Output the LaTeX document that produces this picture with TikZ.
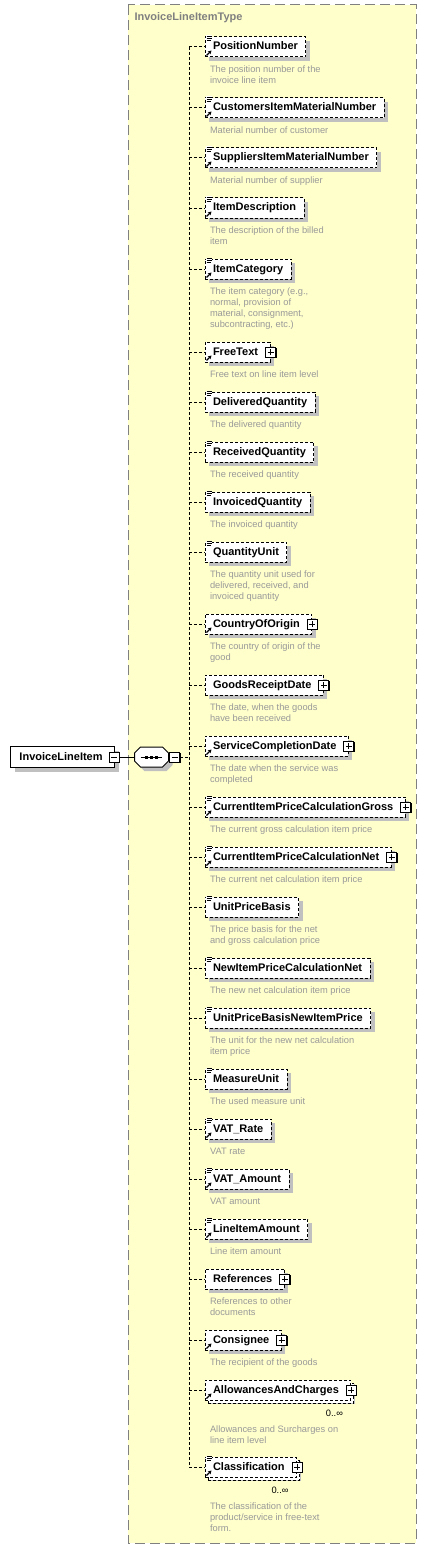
\documentclass[tikz,border=0pt]{standalone}
\usepackage{fontspec}
\setmainfont{Liberation Sans}
\definecolor{typeyellow}{HTML}{FFFFCC}
\definecolor{framegray}{HTML}{808080}
\definecolor{notegray}{HTML}{999999}
\definecolor{shadowgray}{HTML}{C0C0C0}
\usepackage{tikz}
\usetikzlibrary{positioning, shadows, arrows.meta}

\tikzset{
  elembox/.style={draw, dash pattern=on 3pt off 2pt, fill=white, anchor=west,
    inner xsep=8pt, inner ysep=0pt, minimum height=20pt, text height=8pt, text depth=2pt,
    font=\fontsize{11}{13}\selectfont\bfseries,
    drop shadow={shadow xshift=4pt, shadow yshift=-4pt, opacity=1, fill=shadowgray}},
  elemplus/.style={elembox, execute at end node={\hspace{4pt}}},
  multibox/.style={elemplus, copy shadow={shadow xshift=3pt, shadow yshift=-3pt}},
  rootbox/.style={draw, fill=white, anchor=west, inner xsep=9pt, inner ysep=0pt,
    minimum height=21pt, text height=8pt, text depth=2pt,
    font=\fontsize{11}{13}\selectfont\bfseries, execute at end node={\hspace{3pt}},
    drop shadow={shadow xshift=4pt, shadow yshift=-4pt, opacity=1, fill=shadowgray}},
  seqbox/.style={minimum width=33pt, minimum height=19pt, inner sep=0pt},
  seqline/.style={draw, fill=white,
    drop shadow={shadow xshift=4pt, shadow yshift=-4pt, opacity=1, fill=shadowgray}},
  plusbox/.style={draw, fill=white, minimum size=10pt, inner sep=0pt,
    drop shadow={shadow xshift=1pt, shadow yshift=-1pt, opacity=1, fill=black},
    path picture={\draw ([xshift=-3pt]path picture bounding box.center) -- ([xshift=3pt]path picture bounding box.center)
      ([yshift=-3pt]path picture bounding box.center) -- ([yshift=3pt]path picture bounding box.center);}},
  minusbox/.style={draw, fill=white, minimum size=10pt, inner sep=0pt,
    drop shadow={shadow xshift=1pt, shadow yshift=-1pt, opacity=1, fill=black},
    path picture={\draw ([xshift=-3pt]path picture bounding box.center) -- ([xshift=3pt]path picture bounding box.center);}},
  descr/.style={text=notegray, align=left, inner sep=0pt, font=\fontsize{9.3}{11}\selectfont},
  mult/.style={inner sep=0pt, font=\fontsize{9.3}{11}\selectfont},
  link/.style={dash pattern=on 3pt off 2pt},
  typeframe/.style={draw=framegray, fill=typeyellow, dash pattern=on 10pt off 5pt}
}

% small icons on the element boxes
\newcommand{\annmark}[1]{%
  \fill[white] ([xshift=1.5pt,yshift=1pt]#1.north west) rectangle ++(6pt,-6.5pt);
  \draw[line width=0.8pt] ([xshift=2pt,yshift=0.5pt]#1.north west) -- ++(5pt,0pt)
    ([xshift=2pt,yshift=-1.8pt]#1.north west) -- ++(5pt,0pt)
    ([xshift=2pt,yshift=-4.1pt]#1.north west) -- ++(4pt,0pt);}
\newcommand{\linkmark}[1]{%
  \draw[line width=1.2pt, -{Stealth[length=3.5pt,width=4pt]}] ([xshift=2pt,yshift=2pt]#1.south west) -- ++(5pt,5pt);}

\begin{document}
\begin{tikzpicture}[x=1pt, y=-1pt, line width=1pt]
  \useasboundingbox (0,0) rectangle (427,1549);

  \draw[typeframe] (128,5) rectangle (416,1543);
  \node[anchor=west, inner sep=0pt, text=framegray, font=\fontsize{11}{13}\selectfont\bfseries] (typetitle) at (134,18) {InvoiceLineItemType};

  % root element and sequence
  \node[rootbox] (root) at (10,757) {InvoiceLineItem};
  \node[minusbox] (rootminus) at ([xshift=-1pt]root.east) {};
  \node[seqbox] (seq) at (151.5,757) {};
  \draw[seqline] ([xshift=6pt]seq.north west) -- ([xshift=-6pt]seq.north east) -- ([yshift=-6pt]seq.north east)
    -- ([yshift=6pt]seq.south east) -- ([xshift=-6pt]seq.south east) -- ([xshift=6pt]seq.south west)
    -- ([yshift=6pt]seq.south west) -- ([yshift=-6pt]seq.north west) -- cycle;
  \node[minusbox] (seqminus) at ([xshift=6pt]seq.east) {};
  \draw ([xshift=-11pt]seq.center) -- ([xshift=10pt]seq.center);
  \fill ([xshift=-5pt]seq.center) ++(-1.5,-1.5) rectangle ++(3,3);
  \fill (seq.center) ++(-1.5,-1.5) rectangle ++(3,3);
  \fill ([xshift=5pt]seq.center) ++(-1.5,-1.5) rectangle ++(3,3);
  \draw (rootminus.east) -- (seq.west);
  \coordinate (spine) at (189,757);
  \draw[link] (seqminus.east) -- (spine);

  % children
  \node[elembox] (posnum) at (204.5,47) {PositionNumber};
  \node[descr, below right=8pt and 5pt of posnum.south west] (posnumnote) {The position number of the\\invoice line item};
  \annmark{posnum} \linkmark{posnum}

  \node[elembox] (custmat) at (204.5,108) {CustomersItemMaterialNumber};
  \node[descr, below right=8pt and 5pt of custmat.south west] (custmatnote) {Material number of customer};
  \annmark{custmat} \linkmark{custmat}

  \node[elembox] (suppmat) at (204.5,158) {SuppliersItemMaterialNumber};
  \node[descr, below right=8pt and 5pt of suppmat.south west] (suppmatnote) {Material number of supplier};
  \annmark{suppmat} \linkmark{suppmat}

  \node[elembox] (itemdesc) at (204.5,208) {ItemDescription};
  \node[descr, below right=8pt and 5pt of itemdesc.south west] (itemdescnote) {The description of the billed\\item};
  \annmark{itemdesc} \linkmark{itemdesc}

  \node[elembox] (itemcat) at (204.5,269) {ItemCategory};
  \node[descr, below right=8pt and 5pt of itemcat.south west] (itemcatnote) {The item category (e.g.,\\normal, provision of\\material, consignment,\\subcontracting, etc.)};
  \annmark{itemcat} \linkmark{itemcat}

  \node[elemplus] (freetext) at (204.5,352) {FreeText};
  \node[plusbox] (freetextplus) at (freetext.east) {};
  \node[descr, below right=8pt and 5pt of freetext.south west] (freetextnote) {Free text on line item level};
  \linkmark{freetext}

  \node[elembox] (delivqty) at (204.5,402) {DeliveredQuantity};
  \node[descr, below right=8pt and 5pt of delivqty.south west] (delivqtynote) {The delivered quantity};
  \annmark{delivqty}

  \node[elembox] (recvqty) at (204.5,452) {ReceivedQuantity};
  \node[descr, below right=8pt and 5pt of recvqty.south west] (recvqtynote) {The received quantity};
  \annmark{recvqty}

  \node[elembox] (invqty) at (204.5,502) {InvoicedQuantity};
  \node[descr, below right=8pt and 5pt of invqty.south west] (invqtynote) {The invoiced quantity};
  \annmark{invqty}

  \node[elembox] (qtyunit) at (204.5,552) {QuantityUnit};
  \node[descr, below right=8pt and 5pt of qtyunit.south west] (qtyunitnote) {The quantity unit used for\\delivered, received, and\\invoiced quantity};
  \annmark{qtyunit}

  \node[elemplus] (origin) at (204.5,624) {CountryOfOrigin};
  \node[plusbox] (originplus) at (origin.east) {};
  \node[descr, below right=8pt and 5pt of origin.south west] (originnote) {The country of origin of the\\good};
  \linkmark{origin}

  \node[elemplus] (goodsdate) at (204.5,685) {GoodsReceiptDate};
  \node[plusbox] (goodsdateplus) at (goodsdate.east) {};
  \node[descr, below right=8pt and 5pt of goodsdate.south west] (goodsdatenote) {The date, when the goods\\have been received};

  \node[elemplus] (servdate) at (204.5,746) {ServiceCompletionDate};
  \node[plusbox] (servdateplus) at (servdate.east) {};
  \node[descr, below right=8pt and 5pt of servdate.south west] (servdatenote) {The date when the service was\\completed};
  \linkmark{servdate}

  \node[elemplus] (grossprice) at (204.5,807) {CurrentItemPriceCalculationGross};
  \node[plusbox] (grosspriceplus) at (grossprice.east) {};
  \node[descr, below right=8pt and 5pt of grossprice.south west] (grosspricenote) {The current gross calculation item price};
  \annmark{grossprice} \linkmark{grossprice}

  \node[elemplus] (netprice) at (204.5,857) {CurrentItemPriceCalculationNet};
  \node[plusbox] (netpriceplus) at (netprice.east) {};
  \node[descr, below right=8pt and 5pt of netprice.south west] (netpricenote) {The current net calculation item price};
  \annmark{netprice} \linkmark{netprice}

  \node[elembox] (pricebasis) at (204.5,907) {UnitPriceBasis};
  \node[descr, below right=8pt and 5pt of pricebasis.south west] (pricebasisnote) {The price basis for the net\\and gross calculation price};
  \annmark{pricebasis}

  \node[elembox] (newnetprice) at (204.5,968) {NewItemPriceCalculationNet};
  \node[descr, below right=8pt and 5pt of newnetprice.south west] (newnetpricenote) {The new net calculation item price};
  \annmark{newnetprice}

  \node[elembox] (newpricebasis) at (204.5,1018) {UnitPriceBasisNewItemPrice};
  \node[descr, below right=8pt and 5pt of newpricebasis.south west] (newpricebasisnote) {The unit for the new net calculation\\item price};
  \annmark{newpricebasis}

  \node[elembox] (measunit) at (204.5,1079) {MeasureUnit};
  \node[descr, below right=8pt and 5pt of measunit.south west] (measunitnote) {The used measure unit};
  \annmark{measunit}

  \node[elembox] (vatrate) at (204.5,1129) {VAT\_Rate};
  \node[descr, below right=8pt and 5pt of vatrate.south west] (vatratenote) {VAT rate};
  \annmark{vatrate} \linkmark{vatrate}

  \node[elembox] (vatamount) at (204.5,1179) {VAT\_Amount};
  \node[descr, below right=8pt and 5pt of vatamount.south west] (vatamountnote) {VAT amount};
  \annmark{vatamount} \linkmark{vatamount}

  \node[elembox] (lineamount) at (204.5,1229) {LineItemAmount};
  \node[descr, below right=8pt and 5pt of lineamount.south west] (lineamountnote) {Line item amount};
  \annmark{lineamount} \linkmark{lineamount}

  \node[elemplus] (refs) at (204.5,1279) {References};
  \node[plusbox] (refsplus) at (refs.east) {};
  \node[descr, below right=8pt and 5pt of refs.south west] (refsnote) {References to other\\documents};

  \node[elemplus] (consignee) at (204.5,1340) {Consignee};
  \node[plusbox] (consigneeplus) at (consignee.east) {};
  \node[descr, below right=8pt and 5pt of consignee.south west] (consigneenote) {The recipient of the goods};
  \linkmark{consignee}

  \node[multibox] (allowances) at (204.5,1390) {AllowancesAndCharges};
  \node[plusbox] (allowancesplus) at (allowances.east) {};
  \node[mult, below left=9pt and 8pt of allowances.south east] (allowancesmult) {0..∞};
  \path (allowances.south west |- allowancesmult.south) ++(5,8) node[descr, anchor=north west] (allowancesnote) {Allowances and Surcharges on\\line item level};
  \linkmark{allowances}

  \node[multibox] (classif) at (204.5,1467) {Classification};
  \node[plusbox] (classifplus) at (classif.east) {};
  \node[mult, below left=9pt and 8pt of classif.south east] (classifmult) {0..∞};
  \path (classif.south west |- classifmult.south) ++(5,8) node[descr, anchor=north west] (classifnote) {The classification of the\\product/service in free-text\\form.};
  \annmark{classif} \linkmark{classif}

  % connectors to the sequence
  \draw[link] (spine |- posnum.west) -- (spine |- classif.west);
  \draw[link] (spine |- posnum.west) -- (posnum.west)
    (spine |- custmat.west) -- (custmat.west)
    (spine |- suppmat.west) -- (suppmat.west)
    (spine |- itemdesc.west) -- (itemdesc.west)
    (spine |- itemcat.west) -- (itemcat.west)
    (spine |- freetext.west) -- (freetext.west)
    (spine |- delivqty.west) -- (delivqty.west)
    (spine |- recvqty.west) -- (recvqty.west)
    (spine |- invqty.west) -- (invqty.west)
    (spine |- qtyunit.west) -- (qtyunit.west)
    (spine |- origin.west) -- (origin.west)
    (spine |- goodsdate.west) -- (goodsdate.west)
    (spine |- servdate.west) -- (servdate.west)
    (spine |- grossprice.west) -- (grossprice.west)
    (spine |- netprice.west) -- (netprice.west)
    (spine |- pricebasis.west) -- (pricebasis.west)
    (spine |- newnetprice.west) -- (newnetprice.west)
    (spine |- newpricebasis.west) -- (newpricebasis.west)
    (spine |- measunit.west) -- (measunit.west)
    (spine |- vatrate.west) -- (vatrate.west)
    (spine |- vatamount.west) -- (vatamount.west)
    (spine |- lineamount.west) -- (lineamount.west)
    (spine |- refs.west) -- (refs.west)
    (spine |- consignee.west) -- (consignee.west)
    (spine |- allowances.west) -- (allowances.west)
    (spine |- classif.west) -- (classif.west);

\end{tikzpicture}
\end{document}
